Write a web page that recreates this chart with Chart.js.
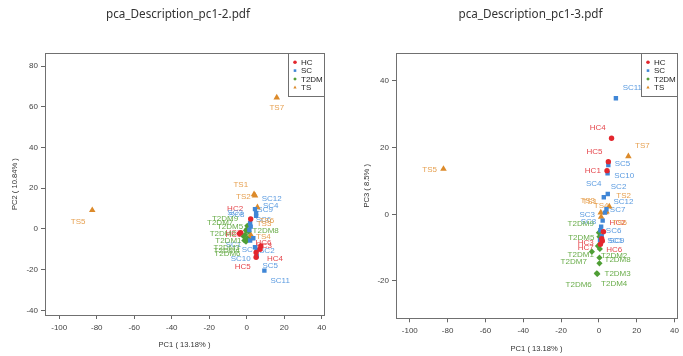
<!DOCTYPE html>
<html><head><meta charset="utf-8">
<script src="https://cdn.jsdelivr.net/npm/chart.js@4"></script>
<style>
html,body{margin:0;padding:0;background:#fff;width:683px;height:356px;overflow:hidden}
.c{position:absolute;top:0;height:356px}
#w1{left:0;width:341px}
#w2{left:341px;width:342px}
</style></head><body>
<div class="c" id="w1"><canvas id="c1"></canvas></div>
<div class="c" id="w2"><canvas id="c2"></canvas></div>
<script>
// ---------- categories / names ----------
const groups = ['HC', 'SC', 'T2DM', 'TS'];
const hcNames = ['HC1','HC2','HC3','HC4','HC5','HC6','HC7'];
const scNames = ['SC1','SC2','SC3','SC4','SC5','SC6','SC7','SC8','SC9','SC10','SC11','SC12'];
const t2Names = ['T2DM1','T2DM2','T2DM3','T2DM4','T2DM5','T2DM6','T2DM7','T2DM8','T2DM9'];
const tsNames = ['TS1','TS2','TS3','TS4','TS5','TS6','TS7'];

// ---------- tick labels ----------
const xTicks = [-100, -80, -60, -40, -20, 0, 20, 40];
const yTicksPC2 = [-40, -20, 0, 20, 40, 60, 80];
const yTicksPC3 = [-20, 0, 20, 40];

// ---------- plot 1: PC1 vs PC2 ----------
const hcPC1a = [-3.9, 2.1, 5.0, 7.1, 5.0, 7.5, -3.2];
const hcPC2  = [-2.3, 4.9, -11.6, -10.0, -13.9, -8.4, -1.8];
const hcLabPC1a = [-7.1, -6.2, 9.2, 15.1, -2.1, 8.9, -7.1];
const hcLabPC2  = [-2.9, 9.7, -8.4, -14.7, -18.8, -6.7, -2.1];

const scPC1a = [1.8, 5.3, 1.8, 5.0, 5.3, 2.1, 3.5, 1.4, 4.4, 4.4, 9.4, 5.0];
const scPC2  = [-5.7, -10.3, 2.8, 6.4, -13.3, 1.1, -4.6, -0.5, 9.7, -9.0, -20.5, 7.7];
const scLabPC1a = [-7.1, 10.7, -6.2, 12.8, 12.5, 8.9, 1.5, -5.4, 9.8, -3.2, 17.8, 13.3];
const scLabPC2  = [-7.9, -10.8, 8.0, 11.6, -18.2, 4.4, -10.3, 6.7, 9.2, -14.9, -25.6, 14.7];

const t2PC1a = [-1.3, -0.9, -0.4, 0.3, 0.0, -1.8, -0.4, 0.9, 0.3];
const t2PC2  = [-5.7, -2.9, -6.2, -4.6, -0.2, -3.6, -0.8, -1.3, 1.5];
const t2LabPC1a = [-9.8, -12.8, -10.7, -10.7, -8.9, -10.3, -14.2, 10.1, -11.6];
const t2LabPC2  = [-5.7, -2.5, -9.5, -10.8, 1.1, -12.0, 2.8, -1.0, 4.9];

const tsPC1a = [3.9, 4.4, 2.1, 1.8, -82.4, 5.7, 16.0];
const tsPC2  = [17.0, 16.4, -2.9, -4.6, 9.2, 10.6, 64.5];
const tsLabPC1a = [-3.2, -1.8, 9.2, 8.9, -89.9, 10.7, 16.0];
const tsLabPC2  = [21.5, 15.6, 2.3, -3.8, 3.6, 3.9, 59.3];

// ---------- plot 2: PC1 vs PC3 ----------
const hcPC1b = [4.3, 2.4, 1.5, 6.7, 5.0, 1.8, 0.8];
const hcPC3  = [13.1, -5.2, -7.3, 22.8, 15.8, -8.0, -9.0];
const hcLabPC1b = [-3.2, 9.9, -7.0, -0.6, -2.3, 8.1, -7.0];
const hcLabPC3  = [13.1, -2.5, -8.5, 26.0, 18.8, -10.7, -9.9];

const scPC1b = [1.5, 4.7, 2.0, 2.6, 5.0, 1.2, 3.2, 0.8, 0.6, 4.6, 9.0, 4.0];
const scPC3  = [-6.5, 6.1, -1.9, 5.1, 14.8, -3.7, 0.5, -4.8, -7.8, 12.3, 34.8, 1.5];
const scLabPC1b = [8.6, 10.4, -6.2, -2.7, 12.5, 7.8, 9.9, -5.5, 9.4, 13.4, 17.7, 13.0];
const scLabPC3  = [-7.9, 8.3, 0.0, 9.3, 15.3, -5.0, 1.3, -2.2, -8.0, 11.5, 38.0, 3.8];

const t2PC1b = [-3.7, 0.5, -1.1, 0.3, 0.3, -0.8, -0.5, 0.3, 0.0];
const t2PC3  = [-11.2, -10.4, -17.7, -14.7, -6.7, -17.9, -9.5, -13.0, -5.5];
const t2LabPC1b = [-9.6, 8.1, 9.9, 8.1, -9.3, -10.7, -13.3, 9.9, -9.6];
const t2LabPC3  = [-12.2, -12.5, -17.9, -20.9, -7.0, -21.0, -14.2, -13.7, -2.7];

const tsPC1b = [1.0, 5.5, 3.5, 1.2, -82.2, 4.0, 15.6];
const tsPC3  = [0.5, 2.3, 0.6, -0.8, 13.6, 0.8, 17.4];
const tsLabPC1b = [-4.8, 13.1, -5.9, 1.2, -89.5, 11.0, 23.0];
const tsLabPC3  = [3.7, 5.5, 4.1, 2.5, 13.3, -2.5, 20.5];

// ---------- styling ----------
const markColors = {HC:'#e3262d', SC:'#3f86d6', T2DM:'#4f9e35', TS:'#dc8a2a'};
const textColors = {HC:'#e5464c', SC:'#5b9be0', T2DM:'#6aad4b', TS:'#e6a050'};
const styles = {HC:['circle',2.7], SC:['rect',3.1], T2DM:['rectRot',3.1], TS:['triangle',3.8]};

function makeDs(g, xs, ys, names, lx, ly) {
  return {
    label: g,
    data: xs.map((v, i) => ({x: v, y: ys[i]})),
    names, lx, ly,
    labelColor: textColors[g],
    backgroundColor: markColors[g],
    borderColor: markColors[g],
    borderWidth: 0,
    pointStyle: styles[g][0],
    pointRadius: styles[g][1],
    pointHoverRadius: styles[g][1]
  };
}

function drawMark(ctx, style, x, y, r) {
  ctx.beginPath();
  if (style === 'circle') { ctx.arc(x, y, r, 0, Math.PI * 2); }
  else if (style === 'rect') { ctx.rect(x - r * 0.72, y - r * 0.72, r * 1.44, r * 1.44); }
  else if (style === 'rectRot') { ctx.moveTo(x, y - r); ctx.lineTo(x + r, y); ctx.lineTo(x, y + r); ctx.lineTo(x - r, y); ctx.closePath(); }
  else { ctx.moveTo(x, y - r); ctx.lineTo(x + r * 0.9, y + r * 0.55); ctx.lineTo(x - r * 0.9, y + r * 0.55); ctx.closePath(); }
  ctx.fill();
}

const decor = {
  id: 'decor',
  beforeDatasetsDraw(chart) {
    const {ctx, scales: {x, y}} = chart;
    ctx.save();
    ctx.font = '8px "Liberation Sans", Arial, sans-serif';
    ctx.textAlign = 'center';
    ctx.textBaseline = 'middle';
    chart.data.datasets.forEach(ds => {
      ctx.fillStyle = ds.labelColor;
      ds.names.forEach((n, i) => {
        ctx.fillText(n, x.getPixelForValue(ds.lx[i]), y.getPixelForValue(ds.ly[i]));
      });
    });
    ctx.restore();
  },
  afterDraw(chart, args, opts) {
    const {ctx, chartArea: a} = chart;
    ctx.save();
    ctx.strokeStyle = '#707070';
    ctx.lineWidth = 1;
    ctx.strokeRect(Math.round(a.left) + 0.5, Math.round(a.top) + 0.5,
                   Math.round(a.right - a.left), Math.round(a.bottom - a.top));
    // title
    ctx.fillStyle = '#333';
    ctx.font = '11.7px "Noto Sans", "Open Sans", sans-serif';
    ctx.textAlign = 'center';
    ctx.textBaseline = 'middle';
    ctx.fillText(opts.title, (a.left + a.right) / 2 + opts.titleDx, opts.titleY);
    // legend
    const w = 36, h = 43;
    const lx = Math.round(a.right) - w + 0.5, ly = Math.round(a.top) + 0.5;
    ctx.fillStyle = '#fff';
    ctx.fillRect(lx, ly, w, h);
    ctx.strokeRect(lx, ly, w, h);
    ctx.font = '8px "Liberation Sans", Arial, sans-serif';
    ctx.textAlign = 'left';
    chart.data.datasets.forEach((ds, i) => {
      const yy = ly + 8.7 + i * 8.4;
      ctx.fillStyle = ds.backgroundColor;
      drawMark(ctx, ds.pointStyle, lx + 6.5, yy, 1.8);
      ctx.fillStyle = '#222';
      ctx.fillText(ds.label, lx + 12.5, yy + 0.5);
    });
    ctx.restore();
  }
};

function axis(min, max, ticks, title, fitSize, isX, tickPad, titlePad) {
  return {
    type: 'linear',
    min, max,
    afterFit(s) { if (isX) s.height = fitSize; else s.width = fitSize; },
    afterBuildTicks(s) { s.ticks = ticks.map(v => ({value: v})); },
    grid: {display: true, drawOnChartArea: false, drawTicks: true, tickLength: 4, color: '#666', lineWidth: 1},
    border: {display: false},
    ticks: {font: {size: 8, family: '"Liberation Sans", Arial, sans-serif'}, color: '#444', padding: tickPad, maxRotation: 0, autoSkip: false},
    title: {display: true, text: title, color: '#333', font: {size: 7.6, family: '"Liberation Sans", Arial, sans-serif'}, padding: titlePad}
  };
}

function makeChart(id, datasets, xr, yr, yTicks, yTitle, pad, xH, yW, xTitlePad, yTitlePad, title, titleDx) {
  return new Chart(document.getElementById(id), {
    type: 'scatter',
    data: {datasets},
    options: {
      responsive: true, maintainAspectRatio: false, animation: false,
      layout: {padding: pad},
      scales: {
        x: axis(xr[0], xr[1], xTicks, 'PC1 ( 13.18% )', xH, true, 4, xTitlePad),
        y: axis(yr[0], yr[1], yTicks, yTitle, yW, false, 3, yTitlePad)
      },
      plugins: {
        legend: {display: false}, tooltip: {enabled: false},
        decor: {title, titleDx, titleY: 15}
      }
    },
    plugins: [decor]
  });
}

makeChart('c1', [
    makeDs('HC', hcPC1a, hcPC2, hcNames, hcLabPC1a, hcLabPC2),
    makeDs('SC', scPC1a, scPC2, scNames, scLabPC1a, scLabPC2),
    makeDs('T2DM', t2PC1a, t2PC2, t2Names, t2LabPC1a, t2LabPC2),
    makeDs('TS', tsPC1a, tsPC2, tsNames, tsLabPC1a, tsLabPC2)
  ], [-107.6, 41.2], [-42.3, 86.3], yTicksPC2, 'PC2 ( 10.84% )',
  {left: 0, top: 53.3, right: 17, bottom: 0}, 41, 45,
  {top: 0, bottom: 7}, {top: 10.2, bottom: 0},
  'pca_Description_pc1-2.pdf', -6.5);

makeChart('c2', [
    makeDs('HC', hcPC1b, hcPC3, hcNames, hcLabPC1b, hcLabPC3),
    makeDs('SC', scPC1b, scPC3, scNames, scLabPC1b, scLabPC3),
    makeDs('T2DM', t2PC1b, t2PC3, t2Names, t2LabPC1b, t2LabPC3),
    makeDs('TS', tsPC1b, tsPC3, tsNames, tsLabPC1b, tsLabPC3)
  ], [-107.3, 41.3], [-31.2, 48.3], yTicksPC3, 'PC3 ( 8.5% )',
  {left: 0, top: 53.3, right: 3, bottom: 0}, 37.7, 55,
  {top: 0, bottom: 2.2}, {top: 21.2, bottom: 0},
  'pca_Description_pc1-3.pdf', -6);
</script>
</body></html>
